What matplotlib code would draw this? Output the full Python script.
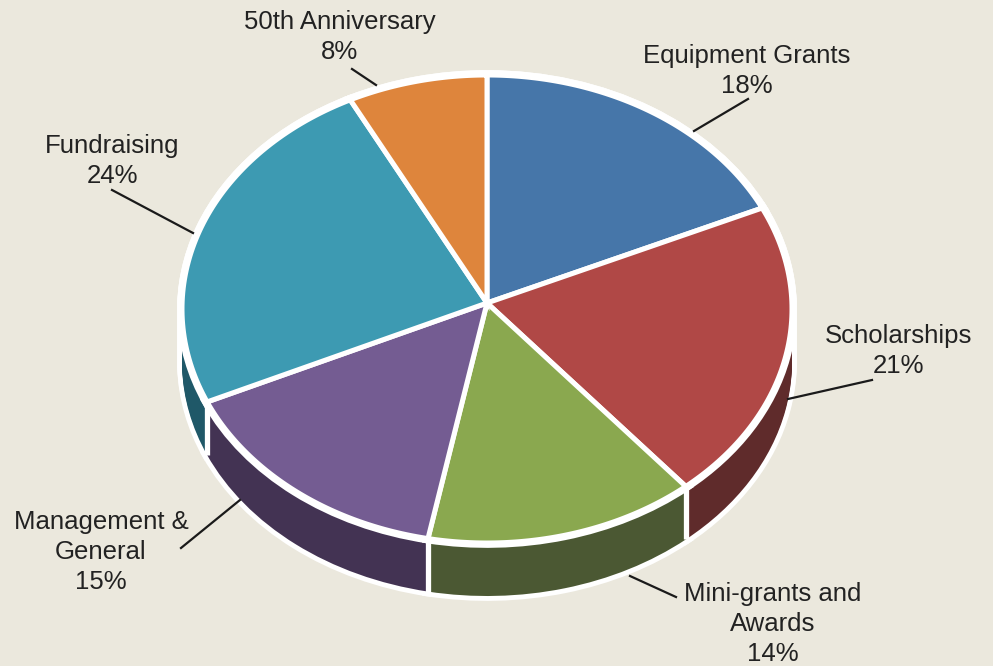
import numpy as np
import matplotlib
matplotlib.use('Agg')
import matplotlib.pyplot as plt
from matplotlib.patches import Polygon

labels = ['Equipment Grants\n18%', 'Scholarships\n21%', 'Mini-grants and\nAwards\n14%',
          'Management &\nGeneral\n15%', 'Fundraising\n24%', '50th Anniversary\n8%']
# slice sizes, the printed labels are rounded
values = [17.9, 20.8, 14.4, 15.4, 24.1, 7.4]
top_colors = ['#4676a9', '#b04846', '#8aa84f', '#745c92', '#3d9ab2', '#de853c']
side_colors = ['#2d4d70', '#5f2b2b', '#4b5833', '#433353', '#1f5868', '#8a5223']

label_xy = [(747, 71), (899, 351), (773, 624), (101, 552), (112, 161), (340, 37)]
leader_lines = [((694, 131), (748, 99)), ((788, 399), (872, 380)), ((630, 576), (676, 597)),
                ((240, 500), (181, 548)), ((193, 233), (112, 190)), ((376, 85), (352, 69))]

W, H = 993, 666
cx, cy, rx, ry = 487, 309, 305, 234
hub_y = 303  # slices meet a little above the middle of the ellipse
depth = 53

bg = '#ebe8dd'
fig = plt.figure(figsize=(W / 100, H / 100), dpi=100, facecolor=bg)
ax = fig.add_axes([0, 0, 1, 1])
ax.set_facecolor(bg)

def px(x, y):
    return (x - cx) / rx, (cy - y) / ry

dy = depth / ry
offsets = np.linspace(dy, 0, 30)

# white rim round the whole shape first
for off in offsets:
    ax.pie(values, colors=['white'] * 6, startangle=90, counterclock=False, center=(0, -off),
           radius=1.0, frame=True, wedgeprops=dict(edgecolor='white', linewidth=7))

# side wall: the dark pie stacked downwards
for off in offsets:
    ax.pie(values, colors=side_colors, startangle=90, counterclock=False,
           center=(0, -off), radius=1.0, frame=True)

# white seams on the wall where slices meet
edges = 90 - np.concatenate([[0], np.cumsum(values)]) / sum(values) * 360
for a in edges[1:]:
    x, y = np.cos(np.radians(a)), np.sin(np.radians(a))
    if y < 0:
        ax.plot([x, x], [y, y - dy], color='white', lw=3.8, solid_capstyle='butt', zorder=3)

ax.pie(values, colors=['white'] * 6, startangle=90, counterclock=False, center=(0, 0), radius=1.0,
       frame=True, wedgeprops=dict(edgecolor='white', linewidth=7, zorder=4))

# top face, own polygons because pie() can't move the hub off centre
hub = px(cx, hub_y)
for i, color in enumerate(top_colors):
    t = np.radians(np.linspace(edges[i], edges[i + 1], 80))
    pts = np.column_stack([np.cos(t), np.sin(t)])
    pts = np.vstack([hub, pts])
    ax.add_patch(Polygon(pts, closed=True, facecolor=color, edgecolor='white', linewidth=3.6,
                         joinstyle='miter', zorder=4.5))

for (x, y), txt in zip(label_xy, labels):
    ax.text(*px(x, y), txt, ha='center', va='center', fontsize=18.5, color='#222222',
            family='Liberation Sans', linespacing=1.31, zorder=6)
for p0, p1 in leader_lines:
    a, b = px(*p0), px(*p1)
    ax.plot([a[0], b[0]], [a[1], b[1]], color='#1a1a1a', lw=1.6, zorder=5)

# pie() forces equal aspect and its own limits, undo that here
ax.set_aspect('auto')
ax.set_xlim(-cx / rx, (W - cx) / rx)
ax.set_ylim(-(H - cy) / ry, cy / ry)
ax.axis('off')

fig.savefig('out.png', dpi=100, facecolor=bg)
